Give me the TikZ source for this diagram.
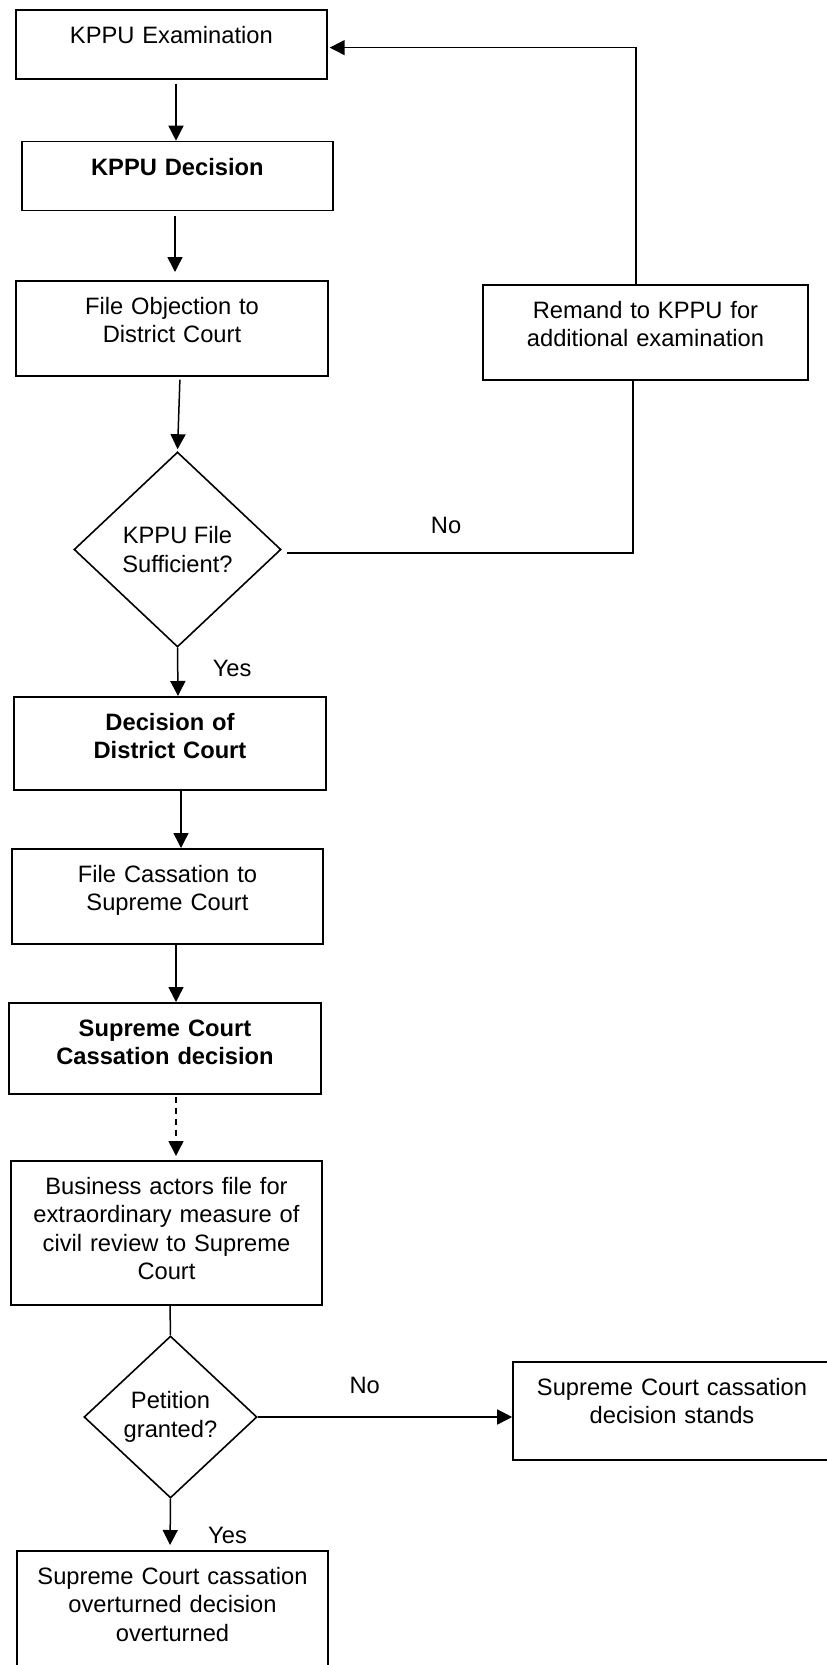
\documentclass[tikz,border=0pt]{standalone}
\usepackage{fontspec}
\setmainfont{Liberation Sans}
\newcommand{\flowfont}{\fontsize{23.7}{28.5}\selectfont}
\usetikzlibrary{shapes.geometric,arrows.meta}

\tikzset{
  box/.style={draw,line width=1.6pt,align=center,anchor=north,font=\flowfont,
    text height=18pt,inner ysep=15.5pt,inner xsep=4pt},
  strong/.style={font=\flowfont\bfseries},
  decide/.style={draw,diamond,line width=1.6pt,align=center,inner sep=0pt,font=\flowfont},
  flow/.style={line width=1.5pt,->},
  lbl/.style={font=\flowfont}
}

\begin{document}
\begin{tikzpicture}[x=1pt,y=-1pt,>={Triangle[length=15pt,width=15pt]}]
  \clip (0,0) rectangle (827,1665);
  % main column
  \node[box,text width=303pt,text depth=20pt](exam) at (171.4,9.3) {KPPU Examination};
  \node[box,strong,text width=303pt,text depth=20pt](kdec) at (177.4,140.7) {KPPU Decision};
  \node[box,text width=304pt,text depth=46pt](fobj) at (172,280) {File Objection to\\District Court};
  \node[decide,minimum width=207pt,minimum height=195pt](suff) at (177.5,549.5) {KPPU File\\Sufficient?};
  \node[box,strong,text width=304pt,text depth=44pt](dcourt) at (170,696) {Decision of\\District Court};
  \node[box,text width=303pt,text depth=46pt](fcass) at (167.5,848) {File Cassation to\\Supreme Court};
  \node[box,strong,text width=304pt,text depth=42pt](scass) at (165,1002) {Supreme Court\\Cassation decision};
  \node[box,text width=303pt,text depth=95pt](biz) at (166.5,1160) {Business actors file for\\extraordinary measure of\\civil review to Supreme\\Court};
  \node[decide,minimum width=173pt,minimum height=162pt](pet) at (170.5,1417) {Petition\\granted?};
  \node[box,text width=303pt,text depth=81pt](over) at (172.5,1550) {Supreme Court cassation\\overturned decision\\overturned};
  % side boxes
  \node[box,text width=317pt,text depth=46pt](remand) at (645.5,284) {Remand to KPPU for\\additional examination};
  \node[box,text width=310pt,text depth=49pt](stands) at (672,1361) {Supreme Court cassation\\decision stands};

  \draw[flow,shorten <=4pt] ([xshift=4.6pt]exam.south) -- ([xshift=-1.4pt]kdec.north);
  \draw[flow,shorten <=5pt,shorten >=8pt] ([xshift=-2.4pt]kdec.south) -- ([xshift=3pt]fobj.north);
  \draw[flow,shorten <=3pt,shorten >=2pt] ([xshift=8pt]fobj.south) -- (suff.north);
  \draw[flow] (suff.south) -- node[lbl,pos=0.42,right=31pt]{Yes} ([xshift=8pt]dcourt.north);
  \draw[line width=1.5pt] ([xshift=5pt,yshift=-3.5pt]suff.east) -| node[lbl,pos=0.23,above=15pt]{No} ([xshift=-12.5pt]remand.south);
  \draw[flow,shorten >=2pt] ([xshift=-9.5pt]remand.north) |- ([yshift=-3pt]exam.east);
  \draw[flow] ([xshift=11pt]dcourt.south) -- ([xshift=13.5pt]fcass.north);
  \draw[flow] ([xshift=8.5pt]fcass.south) -- ([xshift=11pt]scass.north);
  \draw[flow,dash pattern=on 6pt off 5pt,shorten <=2pt,shorten >=4pt] ([xshift=11pt]scass.south) -- ([xshift=9.5pt]biz.north);
  \draw[line width=1.5pt] ([xshift=3.5pt]biz.south) -- (pet.north);
  \draw[flow] (pet.east) -- node[lbl,pos=0.42,above=19pt]{No} (pet.east -| stands.west);
  \draw[flow,shorten >=5pt] (pet.south) -- node[lbl,pos=0.72,right=34pt]{Yes} ([xshift=-2.5pt]over.north);
\end{tikzpicture}
\end{document}
